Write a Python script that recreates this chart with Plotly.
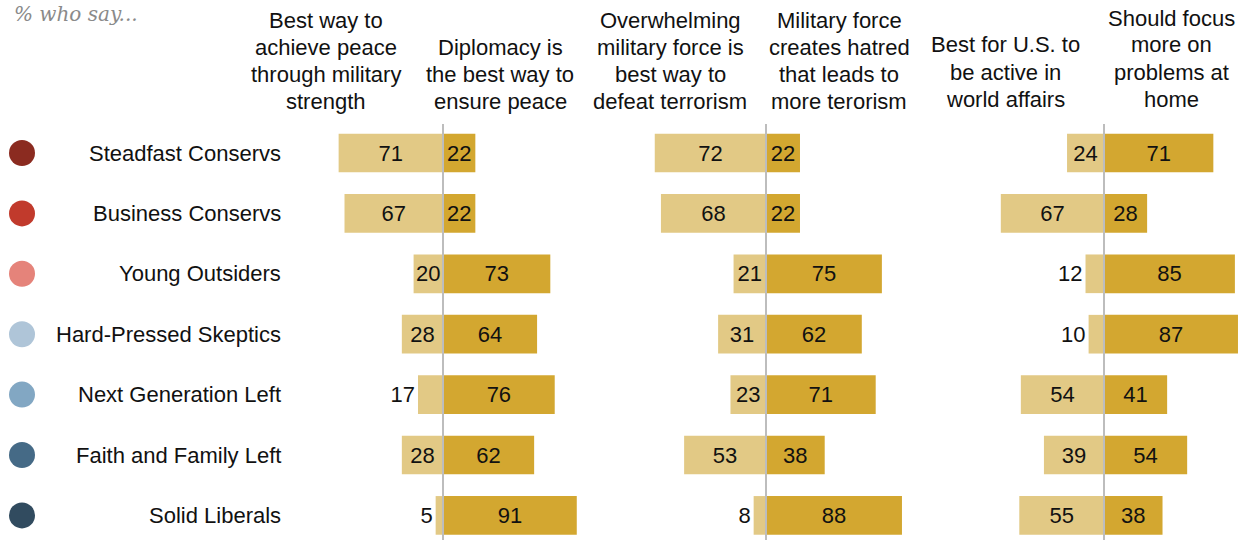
import plotly.graph_objects as go

# Typology groups, top to bottom
groups = ["Steadfast Conservs", "Business Conservs", "Young Outsiders",
          "Hard-Pressed Skeptics", "Next Generation Left",
          "Faith and Family Left", "Solid Liberals"]
group_colors = ["#8B2B20", "#C13A2C", "#E5837A", "#AFC5D8",
                "#82A7C3", "#456A86", "#314B5F"]

# Pairs of opposing statements (% who say)
peace_military = [71, 67, 20, 28, 17, 28, 5]
diplomacy = [22, 22, 73, 64, 76, 62, 91]
overwhelming_force = [72, 68, 21, 31, 23, 53, 8]
force_hatred = [22, 22, 75, 62, 71, 38, 88]
active_world = [24, 67, 12, 10, 54, 39, 55]
focus_home = [71, 28, 85, 87, 41, 54, 38]

headers_left = [["Best way to", "achieve peace", "through military", "strength"],
                ["Overwhelming", "military force is", "best way to", "defeat terrorism"],
                ["Best for U.S. to", "be active in", "world affairs"]]
headers_right = [["Diplomacy is", "the best way to", "ensure peace"],
                 ["Military force", "creates hatred", "that leads to", "more terorism"],
                 ["Should focus", "more on", "problems at", "home"]]

LIGHT = "#E2C985"
DARK = "#D3A730"
FONT = "Liberation Sans"
FS = 22
W, H = 1249, 540
TOP = 124


def py(p):
    """Pixel row (from top) -> paper y."""
    return (H - p) / (H - TOP)


pairs = [(peace_military, diplomacy), (overwhelming_force, force_hatred),
         (active_world, focus_home)]
# pixel layout of each panel: (left px, right px, px per percentage point, zero px)
panels = [(330, 595, 1.47, 443), (640, 925, 1.545, 766), (995, 1249, 1.54, 1104)]
header_centers = [(326, 500), (670, 839), (1005, 1171)]
header_bottom = [101, 101, 99]
LINE = 27

fig = go.Figure()
rows = list(range(len(groups)))

for i, ((left_vals, right_vals), (p0, p1, scale, zero)) in enumerate(zip(pairs, panels)):
    xa = "x" if i == 0 else f"x{i+1}"
    fig.add_trace(go.Bar(
        y=rows, x=[-v for v in left_vals], orientation="h", xaxis=xa, yaxis="y",
        marker=dict(color=LIGHT, line=dict(width=0)), width=0.64,
        text=[str(v) for v in left_vals],
        textposition=["inside" if v >= 18 else "outside" for v in left_vals],
        insidetextanchor="middle", textangle=0,
        textfont=dict(family=FONT, size=FS, color="#111"),
        cliponaxis=False, showlegend=False, hoverinfo="skip"))
    fig.add_trace(go.Bar(
        y=rows, x=right_vals, orientation="h", xaxis=xa, yaxis="y",
        marker=dict(color=DARK, line=dict(width=0)), width=0.64,
        text=[str(v) for v in right_vals], textposition="inside",
        insidetextanchor="middle", textangle=0,
        textfont=dict(family=FONT, size=FS, color="#111"),
        cliponaxis=False, showlegend=False, hoverinfo="skip"))
    rng = [-(zero - p0) / scale, (p1 - zero) / scale]
    fig.layout[f"xaxis{'' if i == 0 else i+1}"] = dict(
        domain=[p0 / W, p1 / W], range=rng, visible=False, fixedrange=True,
        anchor="y")
    # zero line
    fig.add_shape(type="line", xref=xa, yref="paper", x0=0, x1=0, y0=0, y1=1,
                  line=dict(color="#BDBDBD", width=2), layer="above")
    # statement headers, one line per annotation, bottom-aligned
    for lines, cx in ((headers_left[i], header_centers[i][0]),
                      (headers_right[i], header_centers[i][1])):
        n = len(lines)
        for k, line in enumerate(lines):
            yc = header_bottom[i] - (n - 1 - k) * LINE
            fig.add_annotation(text=line, xref="paper", yref="paper",
                               x=cx / W, y=py(yc), xanchor="center",
                               yanchor="middle", showarrow=False,
                               font=dict(family=FONT, size=FS, color="#111"))

# group color dots
fig.add_trace(go.Scatter(
    x=[0.5] * len(groups), y=rows, xaxis="x4", yaxis="y", mode="markers",
    marker=dict(size=26, color=group_colors), showlegend=False,
    hoverinfo="skip", cliponaxis=False))
fig.layout["xaxis4"] = dict(domain=[0, 44 / W], range=[0, 1], visible=False,
                            anchor="y")

# group names
for r, name in zip(rows, groups):
    fig.add_annotation(text=name, xref="paper", yref="y", x=283 / W, y=r,
                       xanchor="right", yanchor="middle", showarrow=False,
                       font=dict(family=FONT, size=FS, color="#111"))

fig.add_annotation(text="<i>% who say...</i>", xref="paper", yref="paper",
                   x=12 / W, y=py(14), xanchor="left",
                   yanchor="middle", showarrow=False,
                   font=dict(family="DejaVu Serif", size=20, color="#8A8A8A"))

fig.update_layout(
    width=W, height=H, margin=dict(l=0, r=0, t=TOP, b=0),
    paper_bgcolor="white", plot_bgcolor="white", barmode="overlay",
    yaxis=dict(range=[(H - 153) / 60.4, (TOP - 153) / 60.4], visible=False,
               fixedrange=True),
    uniformtext=dict(minsize=FS, mode="show"),
)

fig.write_html("out.html")
